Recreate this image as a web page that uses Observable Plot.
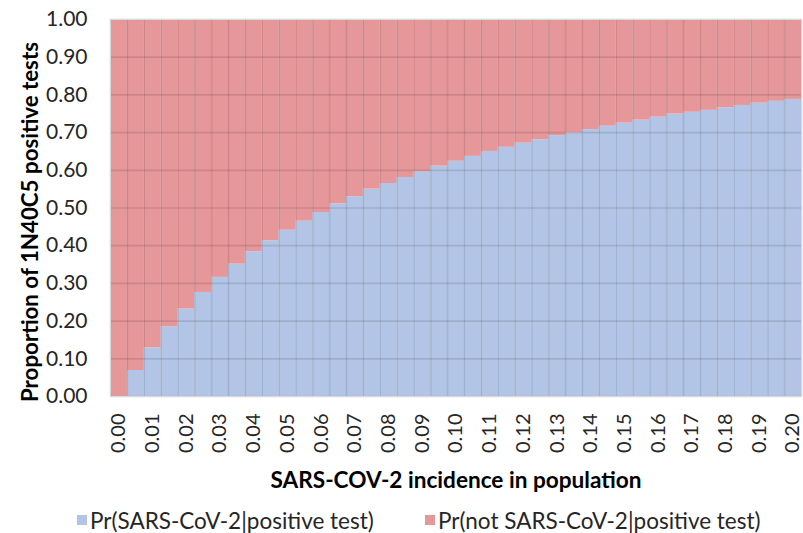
<!DOCTYPE html>
<html><head><meta charset="utf-8">
<script src="https://cdn.jsdelivr.net/npm/d3@7"></script>
<script src="https://cdn.jsdelivr.net/npm/@observablehq/plot@0.6"></script>
<style>
html,body{margin:0;padding:0;background:#fff;}
body{width:803px;height:533px;overflow:hidden;font-family:Lato,"Liberation Sans",sans-serif;}
#legend{position:relative;height:36px;font-size:22.5px;color:#262626;}
.item{position:absolute;top:8px;display:flex;align-items:center;height:30px;white-space:nowrap;}
.sw{width:10px;height:10px;margin-right:3px;}
</style></head><body>
<div id="chart"></div>
<div id="legend"></div>
<script>
// Data
const incidence = [0.000,0.005,0.010,0.015,0.020,0.025,0.030,0.035,0.040,0.045,0.050,0.055,0.060,0.065,0.070,0.075,0.080,0.085,0.090,0.095,0.100,0.105,0.110,0.115,0.120,0.125,0.130,0.135,0.140,0.145,0.150,0.155,0.160,0.165,0.170,0.175,0.180,0.185,0.190,0.195,0.200];
const prSars = [0.000,0.069,0.129,0.185,0.232,0.276,0.316,0.351,0.384,0.413,0.441,0.465,0.488,0.511,0.530,0.550,0.565,0.581,0.596,0.611,0.624,0.637,0.650,0.661,0.672,0.681,0.692,0.699,0.708,0.717,0.725,0.733,0.741,0.749,0.754,0.759,0.766,0.772,0.778,0.783,0.788];
const seriesNames = ["Pr(SARS-CoV-2|positive test)", "Pr(not SARS-CoV-2|positive test)"];
const seriesColors = ["#b2c5e6", "#e69799"];
const yTicks = [0,0.1,0.2,0.3,0.4,0.5,0.6,0.7,0.8,0.9,1.0];
const xTicks = [0.00,0.01,0.02,0.03,0.04,0.05,0.06,0.07,0.08,0.09,0.10,0.11,0.12,0.13,0.14,0.15,0.16,0.17,0.18,0.19,0.20];
const xTitle = "SARS-COV-2 incidence in population";
const yTitle = "Proportion of 1N40C5 positive tests";

const half = (incidence[1] - incidence[0]) / 2;
const rows = [];
incidence.forEach((inc, i) => {
  rows.push({inc, series: seriesNames[0], lo: 0, hi: prSars[i]});
  rows.push({inc, series: seriesNames[1], lo: prSars[i], hi: 1});
});
const bounds = incidence.map(d => d - half).concat([incidence[incidence.length - 1] + half]);

const chart = Plot.plot({
  width: 803,
  height: 497,
  marginLeft: 110,
  marginRight: 2,
  marginTop: 19,
  marginBottom: 101,
  style: {fontFamily: "Lato, 'Liberation Sans', sans-serif", color: "#262626", background: "#fff"},
  x: {type: "linear", domain: [incidence[0] - half, incidence[incidence.length - 1] + half]},
  y: {domain: [0, 1]},
  color: {domain: seriesNames, range: seriesColors},
  marks: [
    Plot.rectY(rows, {x1: d => d.inc - half, x2: d => d.inc + half, y1: "lo", y2: "hi", fill: "series"}),
    Plot.gridY(yTicks, {stroke: "#000", strokeOpacity: 0.11, strokeWidth: 1.7}),
    Plot.ruleX(bounds, {stroke: "#000", strokeOpacity: 0.1, strokeWidth: 1.6}),
    Plot.frame({stroke: "#d9d9d9", strokeWidth: 1.2}),
    Plot.axisY(yTicks, {tickFormat: d => d.toFixed(2), tickSize: 0, tickPadding: 23, fontSize: 21, label: null}),
    Plot.axisX(xTicks, {tickFormat: d => d.toFixed(2), tickSize: 0, tickPadding: 17, tickRotate: -90, fontSize: 20, label: null}),
    Plot.text([xTitle], {frameAnchor: "bottom", dy: 84, lineAnchor: "middle", textAnchor: "middle", fontSize: 22.6, fontWeight: "bold", fill: "#000"}),
    Plot.text([yTitle], {frameAnchor: "left", dx: -80, dy: 14, rotate: -90, lineAnchor: "middle", textAnchor: "middle", fontSize: 22.3, fontWeight: "bold", fill: "#000"})
  ]
});
document.getElementById("chart").appendChild(chart);

const legend = document.getElementById("legend");
const lefts = [77, 425];
seriesNames.forEach((name, i) => {
  const it = document.createElement("div");
  it.className = "item";
  it.style.left = lefts[i] + "px";
  it.innerHTML = `<span class="sw" style="background:${seriesColors[i]}"></span><span>${name}</span>`;
  legend.appendChild(it);
});
</script>
</body></html>
